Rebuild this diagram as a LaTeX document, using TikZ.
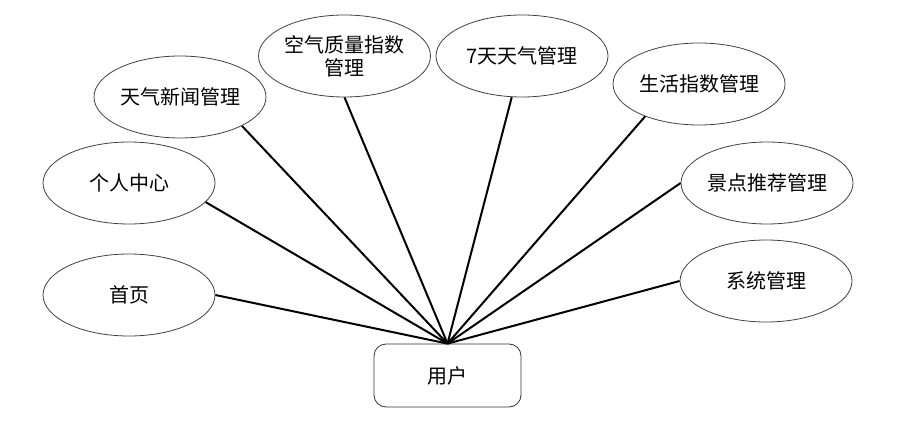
\documentclass[tikz,border=0pt]{standalone}
\usepackage{fontspec}
\setmainfont{Noto Sans CJK SC}
\usetikzlibrary{shapes.geometric}
\begin{document}
\begin{tikzpicture}[x=1pt,y=-1pt,
  uc/.style={ellipse,draw=black!75,line width=0.8pt,minimum width=172pt,minimum height=82pt,inner sep=0pt,font=\fontsize{20}{23}\selectfont,align=center},
  actor/.style={draw=black!80,line width=0.8pt,rounded corners=12pt,minimum width=147pt,minimum height=63pt,inner sep=0pt,font=\fontsize{20}{23}\selectfont},
  conn/.style={line width=2pt,black}]
\useasboundingbox (0,0) rectangle (912,422);
\node[actor] (user) at (447.5,375.5) {用户};
\node[uc] (home) at (129,295) {首页};
\node[uc] (me) at (129,183) {个人中心};
\node[uc] (news) at (180,97) {天气新闻管理};
\node[uc] (air) at (344.5,56) {空气质量指数\\管理};
\node[uc] (week) at (522,56) {7天天气管理};
\node[uc] (life) at (699,84) {生活指数管理};
\node[uc] (spot) at (767,183) {景点推荐管理};
\node[uc] (sys) at (766,281) {系统管理};
\draw[conn] (home.0) -- (user.north);
\draw[conn] (me.346) -- (user.north);
\draw[conn] (news.335) -- (user.north);
\draw[conn] (air.270) -- (user.north);
\draw[conn] (week.256) -- (user.north);
\draw[conn] (life.211) -- (user.north);
\draw[conn] (spot.180) -- (user.north);
\draw[conn] (sys.180) -- (user.north);
\end{tikzpicture}
\end{document}
